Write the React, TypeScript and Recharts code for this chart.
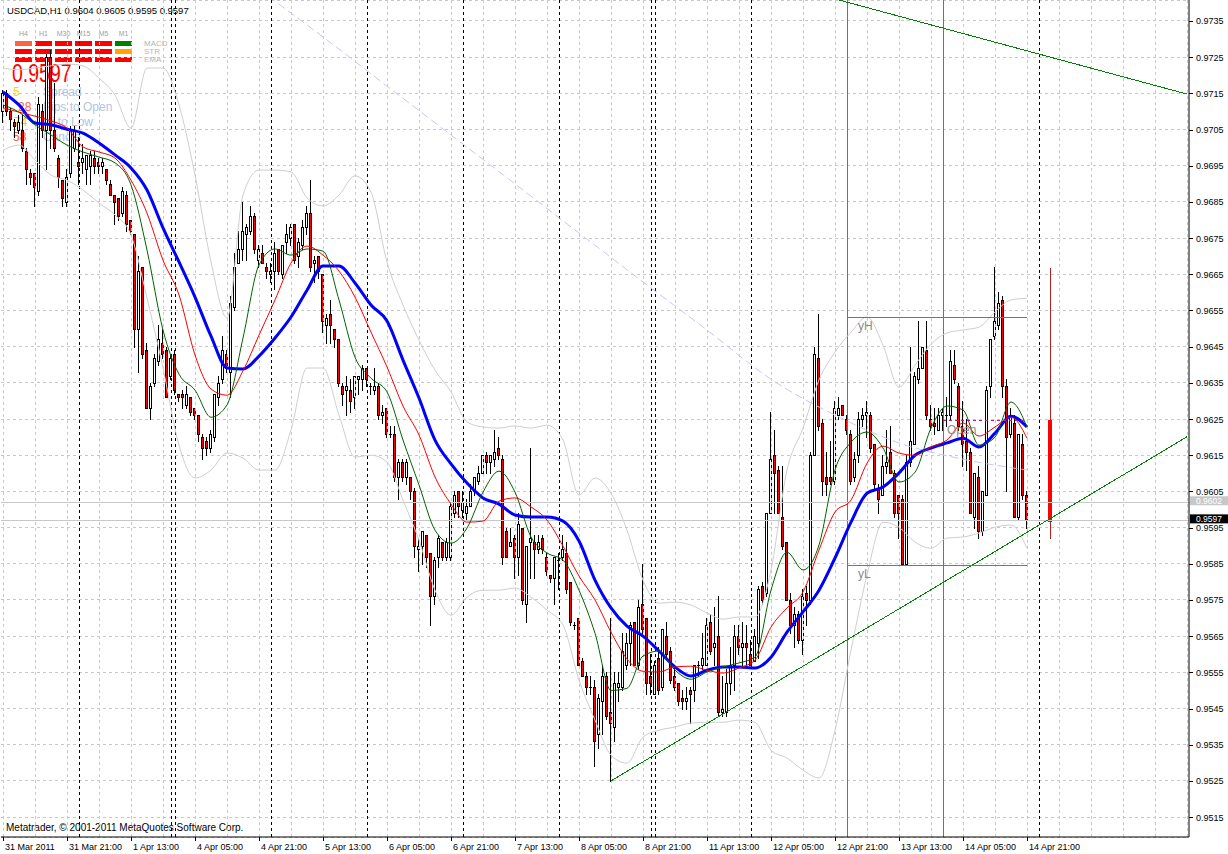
import React from "react";
import {
  Bar,
  CartesianGrid,
  ComposedChart,
  Line,
  ReferenceLine,
  XAxis,
  YAxis,
} from "recharts";

const W = 1228;
const H = 854;
const SLOTS = 297; // hourly slots on screen, incl. empty space on the right

// USDCAD H1, first bar = 31 Mar 2011 05:00. Prices in 1/10000 (9715 = 0.9715)
const barOpen = [
  9710, 9715, 9710, 9707, 9705, 9705, 9699, 9693, 9693, 9688,
  9710, 9705, 9725, 9705, 9697, 9691, 9685, 9693, 9700, 9696,
  9696, 9694, 9695, 9697, 9696, 9695, 9694, 9690, 9687, 9686,
  9682, 9687, 9680, 9676, 9650, 9667, 9644, 9628, 9635, 9641,
  9646, 9644, 9637, 9643, 9632, 9632, 9629, 9631, 9628, 9626,
  9620, 9619, 9617, 9620, 9631, 9636, 9643, 9638, 9656, 9668,
  9672, 9676, 9677, 9681, 9669, 9671, 9667, 9665, 9666, 9672,
  9665, 9674, 9675, 9679, 9670, 9673, 9678, 9682, 9668, 9670,
  9665, 9651, 9654, 9650, 9647, 9634, 9633, 9633, 9631, 9636,
  9636, 9639, 9634, 9633, 9634, 9626, 9628, 9621, 9621, 9609,
  9613, 9609, 9609, 9605, 9589, 9590, 9593, 9588, 9576, 9587,
  9591, 9587, 9587, 9599, 9605, 9600, 9599, 9601, 9605, 9608,
  9610, 9615, 9613, 9614, 9617, 9614, 9594, 9590, 9592, 9587,
  9595, 9574, 9591, 9591, 9589, 9592, 9587, 9582, 9581, 9586,
  9587, 9588, 9580, 9568, 9570, 9558, 9554, 9551, 9551, 9538,
  9547, 9554, 9544, 9540, 9551, 9551, 9557, 9563, 9569, 9557,
  9574, 9570, 9554, 9549, 9559, 9551, 9565, 9561, 9554, 9552,
  9548, 9547, 9550, 9550, 9557, 9557, 9557, 9569, 9562, 9565,
  9544, 9544, 9552, 9557, 9565, 9562, 9563, 9560, 9558, 9563,
  9579, 9577, 9599, 9615, 9611, 9598, 9591, 9575, 9568, 9571,
  9564, 9577, 9575, 9615, 9642, 9624, 9609, 9609, 9608, 9626,
  9629, 9625, 9621, 9609, 9615, 9625, 9626, 9626, 9618, 9606,
  9604, 9612, 9616, 9610, 9604, 9603, 9585, 9613, 9618, 9636,
  9639, 9644, 9625, 9624, 9622, 9626, 9626, 9626, 9640, 9634,
  9623, 9619, 9616, 9598, 9609, 9594, 9604, 9634, 9648, 9651,
  9658, 9634, 9621, 9624, 9598, 9618, 9604,
];
const barHigh = [
  9716, 9716, 9711, 9708, 9709, 9709, 9700, 9694, 9693, 9714,
  9712, 9726, 9727, 9718, 9698, 9691, 9694, 9706, 9706, 9703,
  9701, 9698, 9699, 9699, 9697, 9697, 9694, 9691, 9687, 9686,
  9689, 9688, 9680, 9676, 9670, 9667, 9646, 9635, 9643, 9651,
  9650, 9645, 9643, 9644, 9632, 9633, 9634, 9631, 9628, 9626,
  9621, 9620, 9622, 9632, 9637, 9648, 9644, 9659, 9671, 9677,
  9685, 9679, 9684, 9682, 9673, 9673, 9668, 9668, 9674, 9672,
  9673, 9679, 9679, 9679, 9675, 9680, 9684, 9691, 9670, 9670,
  9665, 9654, 9658, 9650, 9647, 9635, 9637, 9636, 9637, 9637,
  9640, 9639, 9635, 9639, 9635, 9629, 9628, 9623, 9623, 9614,
  9614, 9614, 9609, 9606, 9592, 9594, 9593, 9588, 9587, 9593,
  9591, 9592, 9602, 9605, 9605, 9605, 9603, 9607, 9609, 9612,
  9615, 9616, 9615, 9622, 9620, 9615, 9595, 9595, 9593, 9599,
  9595, 9590, 9617, 9593, 9593, 9593, 9588, 9582, 9587, 9588,
  9593, 9591, 9580, 9569, 9570, 9559, 9555, 9554, 9553, 9549,
  9557, 9555, 9570, 9555, 9555, 9566, 9566, 9569, 9569, 9575,
  9585, 9570, 9560, 9558, 9562, 9567, 9569, 9562, 9557, 9552,
  9550, 9551, 9551, 9557, 9558, 9566, 9570, 9571, 9573, 9576,
  9554, 9556, 9562, 9568, 9568, 9569, 9568, 9564, 9567, 9579,
  9580, 9599, 9627, 9622, 9612, 9612, 9591, 9577, 9573, 9572,
  9578, 9579, 9616, 9645, 9654, 9625, 9616, 9619, 9630, 9631,
  9629, 9626, 9622, 9616, 9627, 9628, 9630, 9627, 9618, 9607,
  9615, 9622, 9623, 9611, 9604, 9604, 9615, 9645, 9638, 9652,
  9645, 9652, 9629, 9628, 9628, 9628, 9631, 9644, 9644, 9635,
  9630, 9625, 9617, 9610, 9612, 9605, 9634, 9647, 9667, 9660,
  9659, 9636, 9628, 9626, 9621, 9621, 9605,
];
const barLow = [
  9707, 9709, 9705, 9703, 9704, 9699, 9690, 9690, 9684, 9687,
  9703, 9694, 9700, 9699, 9689, 9684, 9684, 9692, 9699, 9690,
  9693, 9690, 9690, 9693, 9693, 9693, 9690, 9687, 9679, 9680,
  9681, 9677, 9676, 9645, 9638, 9642, 9628, 9625, 9634, 9640,
  9642, 9631, 9636, 9632, 9630, 9628, 9628, 9626, 9625, 9619,
  9614, 9615, 9616, 9619, 9629, 9635, 9638, 9631, 9655, 9668,
  9669, 9669, 9676, 9671, 9667, 9668, 9664, 9663, 9661, 9665,
  9664, 9671, 9673, 9668, 9667, 9672, 9676, 9666, 9663, 9664,
  9649, 9646, 9646, 9645, 9634, 9629, 9626, 9627, 9628, 9632,
  9633, 9634, 9632, 9632, 9625, 9624, 9620, 9620, 9608, 9603,
  9608, 9607, 9603, 9587, 9583, 9585, 9584, 9568, 9574, 9584,
  9586, 9586, 9586, 9598, 9598, 9598, 9597, 9601, 9604, 9607,
  9610, 9610, 9610, 9612, 9614, 9585, 9587, 9590, 9581, 9582,
  9574, 9569, 9581, 9581, 9588, 9588, 9582, 9580, 9574, 9578,
  9586, 9577, 9568, 9567, 9557, 9554, 9549, 9549, 9529, 9534,
  9538, 9542, 9525, 9536, 9547, 9550, 9556, 9557, 9557, 9556,
  9566, 9549, 9549, 9549, 9549, 9550, 9559, 9552, 9550, 9546,
  9545, 9545, 9541, 9547, 9554, 9556, 9557, 9560, 9557, 9543,
  9543, 9543, 9549, 9550, 9560, 9557, 9557, 9557, 9558, 9559,
  9574, 9576, 9599, 9599, 9599, 9589, 9575, 9566, 9562, 9563,
  9560, 9568, 9574, 9615, 9622, 9604, 9604, 9607, 9607, 9625,
  9626, 9621, 9607, 9608, 9613, 9623, 9620, 9616, 9606, 9599,
  9604, 9610, 9610, 9598, 9592, 9585, 9585, 9612, 9618, 9635,
  9639, 9625, 9622, 9621, 9622, 9622, 9623, 9625, 9635, 9622,
  9612, 9611, 9599, 9595, 9592, 9593, 9604, 9631, 9647, 9650,
  9631, 9605, 9620, 9598, 9597, 9603, 9595,
];
const barClose = [
  9715, 9710, 9708, 9706, 9707, 9700, 9694, 9692, 9689, 9712,
  9705, 9725, 9705, 9700, 9692, 9686, 9692, 9705, 9705, 9695,
  9697, 9698, 9698, 9695, 9695, 9696, 9691, 9687, 9685, 9681,
  9688, 9679, 9677, 9650, 9666, 9643, 9628, 9634, 9642, 9647,
  9643, 9631, 9642, 9633, 9631, 9631, 9632, 9627, 9626, 9621,
  9617, 9617, 9621, 9632, 9635, 9644, 9639, 9657, 9667, 9672,
  9677, 9678, 9681, 9672, 9672, 9668, 9666, 9666, 9671, 9666,
  9673, 9676, 9678, 9669, 9674, 9678, 9682, 9667, 9669, 9666,
  9652, 9653, 9651, 9647, 9635, 9632, 9634, 9630, 9637, 9637,
  9639, 9636, 9634, 9634, 9626, 9627, 9621, 9621, 9609, 9613,
  9609, 9613, 9605, 9590, 9590, 9594, 9587, 9576, 9586, 9592,
  9587, 9591, 9601, 9604, 9601, 9602, 9601, 9605, 9609, 9610,
  9615, 9613, 9615, 9616, 9615, 9587, 9587, 9591, 9587, 9596,
  9575, 9590, 9592, 9589, 9591, 9589, 9583, 9581, 9587, 9586,
  9589, 9578, 9569, 9568, 9557, 9554, 9551, 9551, 9536, 9548,
  9554, 9543, 9541, 9552, 9552, 9561, 9563, 9568, 9557, 9573,
  9567, 9552, 9552, 9557, 9550, 9567, 9560, 9553, 9551, 9547,
  9547, 9548, 9549, 9557, 9557, 9559, 9568, 9561, 9563, 9544,
  9545, 9552, 9557, 9565, 9562, 9563, 9562, 9557, 9565, 9578,
  9575, 9599, 9614, 9610, 9599, 9590, 9575, 9568, 9571, 9564,
  9576, 9575, 9615, 9643, 9623, 9608, 9607, 9608, 9628, 9628,
  9626, 9622, 9608, 9614, 9625, 9626, 9627, 9617, 9607, 9603,
  9612, 9613, 9610, 9599, 9599, 9585, 9613, 9619, 9637, 9639,
  9645, 9626, 9623, 9623, 9626, 9627, 9626, 9641, 9636, 9623,
  9618, 9616, 9599, 9610, 9594, 9605, 9633, 9647, 9652, 9657,
  9634, 9620, 9626, 9598, 9621, 9604, 9597,
];

// indicator readings, one value every 4th bar (bar 0, 4, 8 ... 256)
const MA_STEP = 4;
const maSlow = [
  9715.4, 9711.8, 9706.8, 9706.3, 9705.1, 9704, 9701.3, 9698, 9694.4, 9688.3,
  9677.8, 9668.4, 9658.7, 9647.9, 9639.1, 9638.8, 9642.4, 9647.4, 9653.2, 9660.6,
  9667.3, 9667.3, 9662.6, 9656.5, 9652.1, 9641.3, 9630.8, 9619.2, 9612.6, 9607.3,
  9603.2, 9601.5, 9598.5, 9597.9, 9597.9, 9596.8, 9591.3, 9580.5, 9572.8, 9567.8,
  9565, 9560.9, 9556.5, 9554, 9555.6, 9556.5, 9556.5, 9556.2, 9559.2, 9566.1,
  9571.7, 9577.7, 9586.6, 9596.5, 9604.5, 9606.2, 9610.1, 9615, 9617, 9618.4,
  9619.7, 9617.3, 9621.1, 9625.8, 9622.8,
];
const maMid = [
  9711, 9709.8, 9708.7, 9707.4, 9705.4, 9700.2, 9698.8, 9697.1, 9691, 9681.9,
  9668.9, 9659.3, 9642.7, 9633.3, 9631.6, 9638.3, 9648.2, 9657.9, 9668.1, 9672.8,
  9670.3, 9665.9, 9658.7, 9649, 9639.4, 9628.6, 9620.6, 9609, 9601.5, 9596.5,
  9596.8, 9602.3, 9603.2, 9600.7, 9597.1, 9589.9, 9581.6, 9575, 9566.1, 9558.7,
  9555.3, 9555.1, 9556.5, 9556.7, 9555.6, 9554.8, 9556.2, 9558.4, 9567.5, 9572.8,
  9577.2, 9588.8, 9599.3, 9602.6, 9612.8, 9617.5, 9615.6, 9615, 9617.3, 9619.2,
  9623.9, 9620.3, 9622.8, 9625.5, 9619.7,
];
const maFast = [
  9711.8, 9709.8, 9706.3, 9703.5, 9700.7, 9698.8, 9697.4, 9695.8, 9689.7, 9671.7,
  9649.6, 9637.4, 9633, 9625.5, 9628.9, 9647.4, 9667.6, 9672, 9670.3, 9672,
  9671.4, 9657.9, 9642.1, 9636.3, 9632.5, 9619.2, 9606.8, 9594.3, 9590.7, 9594.9,
  9604.8, 9610.6, 9604.8, 9592.4, 9588, 9586, 9577.7, 9565.8, 9550, 9550.6,
  9559.5, 9560.9, 9555.6, 9553.1, 9555.1, 9556.5, 9557.6, 9559.2, 9577.7, 9588.2,
  9583.3, 9590.2, 9610.9, 9618.6, 9621.4, 9617, 9607.6, 9610.3, 9622.5, 9628.6,
  9627.5, 9617.8, 9620, 9629.7, 9622.8,
];
const bandUpper = [
  9722, 9721.5, 9722, 9722.6, 9723.1, 9722.6, 9719.2, 9714.5, 9705.4, 9722,
  9722, 9711.8, 9692.4, 9668.4, 9652.9, 9686.9, 9693.8, 9693.8, 9693.3, 9686.1,
  9683.9, 9686.9, 9692.2, 9687.7, 9668.4, 9656.5, 9646.8, 9638.5, 9632.5, 9624.2,
  9622.8, 9622.5, 9623.1, 9622.5, 9623.3, 9619.2, 9604, 9608.7, 9604.5, 9594.3,
  9580.5, 9574.1, 9574.4, 9573.6, 9571.4, 9569.7, 9570.3, 9570.3, 9583.3, 9610.9,
  9622.5, 9635.8, 9643.5, 9649, 9653.2, 9645.4, 9633.8, 9639.9, 9645.7, 9648.8,
  9649.6, 9650.4, 9654.6, 9657.9, 9658.4,
];
const bandLower = [
  9699.3, 9700.7, 9696.6, 9692.4, 9691, 9688.3, 9684.7, 9681.4, 9675.9, 9658.4,
  9639.1, 9617.8, 9608.7, 9610.9, 9615.6, 9614.2, 9610.9, 9610.9, 9622, 9639.1,
  9639.1, 9626.1, 9614.5, 9615, 9613.1, 9602.6, 9591.5, 9577.7, 9570.8, 9575.8,
  9577.7, 9577.7, 9578.3, 9575.8, 9572.2, 9568.1, 9552.9, 9541.8, 9532.1, 9529.9,
  9537.1, 9539, 9539.9, 9541, 9541.2, 9541.2, 9541.8, 9541.2, 9533.5, 9531.3,
  9528, 9525.8, 9539, 9561.1, 9581.9, 9596.5, 9595.1, 9591, 9589.3, 9592.1,
  9592.4, 9593.5, 9595.1, 9595.7, 9589.3,
];
const longMaBars = [64, 80, 96, 112, 128, 144, 160, 176, 192, 208, 224, 240, 256];
const longMa = [
  9743.7, 9730.6, 9717, 9703.5, 9690, 9676.4, 9662.9, 9649.6, 9636, 9626.1,
  9618.4, 9613.9, 9610.9,
];

const timeLabelBars = [0, 16, 32, 48, 64, 80, 96, 112, 128, 144, 160, 176, 192, 208, 224, 240, 256];
const timeLabels = [
  "31 Mar 2011", "31 Mar 21:00", "1 Apr 13:00", "4 Apr 05:00", "4 Apr 21:00",
  "5 Apr 13:00", "6 Apr 05:00", "6 Apr 21:00", "7 Apr 13:00", "8 Apr 05:00",
  "8 Apr 21:00", "11 Apr 13:00", "12 Apr 05:00", "12 Apr 21:00", "13 Apr 13:00",
  "14 Apr 05:00", "14 Apr 21:00",
];
const priceTicks = [
  9515, 9525, 9535, 9545, 9555, 9565, 9575, 9585, 9595, 9605, 9615, 9625,
  9635, 9645, 9655, 9665, 9675, 9685, 9695, 9705, 9715, 9725, 9735,
];

const daySeparators = [19, 42, 43, 67, 91, 115, 139, 162, 163, 187, 259];
const markerLines = [211, 235];
const dayCandle = { bar: 262, open: 9624.7, high: 9666.7, low: 9592, close: 9596.5 };
const trendLow = [{ x: 152, y: 9525 }, { x: 296, y: 9620.1 }];
const trendHigh = [{ x: 209, y: 9740.8 }, { x: 296, y: 9714.8 }];
const rangeHigh = 9653;
const rangeLow = 9584.6;
const rangeBars = [211, 256];
const dayOpenLevel = 9624.5;
const dayOpenBars = [235, 256];
const askPrice = 9602;
const bidPrice = 9597;

const timeframes = ["H4", "H1", "M30", "M15", "M5", "M1"];
const signalNames = ["MACD", "STR", "EMA"];
const signalColors = [
  ["#ff6347", "#ff0000", "#ff0000", "#ff0000", "#ff0000", "#008000"],
  ["#ff0000", "#ff0000", "#ff0000", "#ff0000", "#ff0000", "#ffa500"],
  ["#ff0000", "#ff0000", "#ff0000", "#ff0000", "#ff0000", "#ff0000"],
];
const infoValues = ["5", "28", "74", "58"];
const infoValueColors = ["#ffd700", "#ff6347", "#ffc000", "#ff6347"];
const infoNames = ["Spread", "Pips to Open", "Hi to Low", "Candle"];

const rows = Array.from({ length: SLOTS }, (_, i) => {
  const r: Record<string, number | boolean | null> = { i };
  if (i < barClose.length) {
    r.o = barOpen[i];
    r.h = barHigh[i];
    r.l = barLow[i];
    r.c = barClose[i];
  }
  if (i === dayCandle.bar) {
    r.o = dayCandle.open;
    r.h = dayCandle.high;
    r.l = dayCandle.low;
    r.c = dayCandle.close;
    r.day = true;
  }
  const k = i / MA_STEP;
  if (Number.isInteger(k) && k < maSlow.length) {
    r.slow = maSlow[k];
    r.mid = maMid[k];
    r.fast = maFast[k];
    r.up = bandUpper[k];
    r.lo = bandLower[k];
  }
  const j = longMaBars.indexOf(i);
  if (j >= 0) r.long = longMa[j];
  return r;
});

const AXIS_FONT = '"Liberation Sans", Arial, sans-serif';

function CandleShape(props: any) {
  const { x, y, width, height, payload } = props;
  if (!payload || payload.h == null) return null;
  const { o, h, l, c } = payload;
  const span = h - l || 1;
  const toY = (v: number) => y + ((h - v) / span) * height;
  const cx = Math.floor(x + width / 2);
  const wTop = Math.round(toY(h));
  const wBot = Math.round(toY(l));
  const bTop = Math.round(toY(Math.max(o, c)));
  const bBot = Math.round(toY(Math.min(o, c)));
  if (payload.day) {
    return (
      <g>
        <rect x={cx} y={wTop} width={1} height={wBot - wTop + 1} fill="#b22222" />
        <rect x={cx - 2} y={bTop} width={4} height={Math.max(bBot - bTop, 1)} fill="#ff0000" />
      </g>
    );
  }
  const bh = Math.max(bBot - bTop + 1, 1);
  return (
    <g>
      <rect x={cx} y={wTop} width={1} height={wBot - wTop + 1} fill="#000" />
      <rect x={cx - 1} y={bTop} width={3} height={bh} fill="#000" />
      {bh > 2 && (
        <rect x={cx} y={bTop + 1} width={1} height={bh - 2} fill={c >= o ? "#fff" : "#ff0000"} />
      )}
    </g>
  );
}

function TimeTick({ x, y, payload }: any) {
  const idx = timeLabelBars.indexOf(payload.value);
  return (
    <g>
      <rect x={Math.floor(x)} y={y} width={1} height={4} fill="#000" />
      <text x={x + 2} y={y + 13} fontSize={9} fontFamily={AXIS_FONT} fill="#000">
        {timeLabels[idx]}
      </text>
    </g>
  );
}

function PriceTick({ x, y, payload }: any) {
  return (
    <g>
      <rect x={x} y={Math.round(y)} width={4} height={1} fill="#000" />
      <text x={x + 7} y={y + 3.5} fontSize={9} fontFamily={AXIS_FONT} fill="#000">
        {(payload.value / 10000).toFixed(4)}
      </text>
    </g>
  );
}

function PriceBox({ viewBox, value, bg }: any) {
  if (!viewBox) return null;
  const x = viewBox.x + viewBox.width;
  const y = viewBox.y;
  return (
    <g>
      <rect x={x + 1} y={y - 6} width={38} height={9} fill={bg} />
      <text x={x + 7} y={y + 2} fontSize={8.5} fontFamily={AXIS_FONT} fill="#fff">
        {(value / 10000).toFixed(4)}
      </text>
    </g>
  );
}

function SegText({ viewBox, text, dx, dy, color }: any) {
  if (!viewBox) return null;
  return (
    <text x={viewBox.x + dx} y={viewBox.y + dy} fontSize={12} fontFamily={AXIS_FONT} fill={color}>
      {text}
    </text>
  );
}

const txt = (left: number, top: number, size: number, color: string): React.CSSProperties => ({
  position: "absolute",
  left,
  top,
  fontSize: size,
  lineHeight: 1,
  color,
  whiteSpace: "nowrap",
});

function InfoPanel() {
  const valueLeft = [13, 18, 14, 13];
  return (
    <div style={{ position: "absolute", left: 0, top: 0, width: W, height: H, fontFamily: AXIS_FONT }}>
      <div style={txt(7, 6, 9.5, "#000")}>{"USDCAD,H1  0.9604 0.9605 0.9595 0.9597"}</div>
      {timeframes.map((t, k) => (
        <div key={t} style={{ ...txt(15 + 20 * k, 30, 7, "#a0a0a0"), width: 17, textAlign: "center" }}>
          {t}
        </div>
      ))}
      {signalColors.map((row, r) =>
        row.map((col, k) => (
          <div
            key={r + "-" + k}
            style={{ position: "absolute", left: 15 + 20 * k, top: 41 + 8 * r, width: 17, height: 5, background: col }}
          />
        )),
      )}
      {signalNames.map((s, r) => (
        <div key={s} style={txt(144, 40 + 8 * r, 8, "#b4b4b4")}>
          {s}
        </div>
      ))}
      <div style={{ ...txt(12, 61, 25, "#ff0000"), transform: "scaleX(0.78)", transformOrigin: "0 0" }}>0.9597</div>
      {infoNames.map((n, r) => (
        <React.Fragment key={n}>
          <div style={txt(valueLeft[r], 86 + 15 * r, 12, infoValueColors[r])}>{infoValues[r]}</div>
          <div style={txt(43, 86 + 15 * r, 12, "#b0c4de")}>{n}</div>
        </React.Fragment>
      ))}
      <div style={txt(6, 823, 10, "#000")}>{"Metatrader, © 2001-2011 MetaQuotes Software Corp."}</div>
    </div>
  );
}

export default function App() {
  const gridBars = Array.from({ length: 38 }, (_, k) => k * 8);
  return (
    <div style={{ position: "absolute", left: 0, top: 0, width: W, height: H, background: "#fff", overflow: "hidden" }}>
      <style>{".crisp .recharts-reference-line line, .crisp .recharts-cartesian-grid line { shape-rendering: crispEdges; }"}</style>
      <InfoPanel />
      <div style={{ position: "absolute", left: 0, top: 0 }} className="crisp">
        <ComposedChart width={W} height={H} data={rows} margin={{ top: 0, right: 0, bottom: 0, left: 1 }}>
          <CartesianGrid vertical={false} stroke="#c8c8c8" strokeDasharray="3 3" />
          {gridBars.map((b) => (
            <ReferenceLine key={"g" + b} x={b} stroke="#c8c8c8" strokeDasharray="3 3" />
          ))}
          {daySeparators.map((b) => (
            <ReferenceLine key={"d" + b} x={b} stroke="#000" strokeDasharray="3 3" />
          ))}
          {markerLines.map((b) => (
            <ReferenceLine key={"m" + b} x={b} stroke="#7a7a30" />
          ))}
          <ReferenceLine y={askPrice} stroke="#c8c8c8" label={<PriceBox value={askPrice} bg="#c8c8c8" />} />
          <ReferenceLine y={bidPrice} stroke="#c8c8c8" label={<PriceBox value={bidPrice} bg="#000" />} />
          <XAxis
            dataKey="i"
            type="category"
            ticks={timeLabelBars}
            interval={0}
            tick={<TimeTick />}
            tickLine={false}
            tickSize={0}
            tickMargin={0}
            axisLine={{ stroke: "#000" }}
            height={17}
          />
          <YAxis
            orientation="right"
            type="number"
            domain={[9509.5, 9740.8]}
            ticks={priceTicks}
            allowDataOverflow
            tick={<PriceTick />}
            tickLine={false}
            tickSize={0}
            tickMargin={0}
            axisLine={{ stroke: "#000" }}
            width={39}
          />
          <Bar
            dataKey={(d: any) => (d.h == null ? null : [d.l, d.h])}
            barSize={4}
            shape={(p: any) => <CandleShape {...p} />}
            isAnimationActive={false}
          />
          <Line dataKey="up" type="monotone" stroke="#cfcfcf" strokeWidth={1} dot={false} activeDot={false} connectNulls isAnimationActive={false} />
          <Line dataKey="lo" type="monotone" stroke="#cfcfcf" strokeWidth={1} dot={false} activeDot={false} connectNulls isAnimationActive={false} />
          <Line dataKey="long" type="monotone" stroke="#c8c8f4" strokeWidth={1} strokeDasharray="8 4" dot={false} activeDot={false} connectNulls isAnimationActive={false} />
          <Line dataKey="slow" type="monotone" stroke="#0000ff" strokeWidth={3} dot={false} activeDot={false} connectNulls isAnimationActive={false} />
          <Line dataKey="mid" type="monotone" stroke="#ff0000" strokeWidth={1} dot={false} activeDot={false} connectNulls isAnimationActive={false} />
          <Line dataKey="fast" type="monotone" stroke="#006400" strokeWidth={1} dot={false} activeDot={false} connectNulls isAnimationActive={false} />
          <ReferenceLine segment={trendLow} stroke="#008000" ifOverflow="hidden" />
          <ReferenceLine segment={trendHigh} stroke="#008000" ifOverflow="hidden" />
          <ReferenceLine
            segment={[{ x: rangeBars[0], y: rangeHigh }, { x: rangeBars[1], y: rangeHigh }]}
            stroke="#2f8f9f"
            label={<SegText text="yH" dx={11} dy={12} color="#8a8a8a" />}
          />
          <ReferenceLine
            segment={[{ x: rangeBars[0], y: rangeLow }, { x: rangeBars[1], y: rangeLow }]}
            stroke="#2f8f9f"
            label={<SegText text="yL" dx={11} dy={13} color="#8a8a8a" />}
          />
          <ReferenceLine
            segment={[{ x: dayOpenBars[0], y: dayOpenLevel }, { x: dayOpenBars[1], y: dayOpenLevel }]}
            stroke="#c71585"
            strokeDasharray="3 3"
            label={<SegText text="Open" dx={4} dy={13} color="#8c8c8c" />}
          />
        </ComposedChart>
      </div>
    </div>
  );
}
